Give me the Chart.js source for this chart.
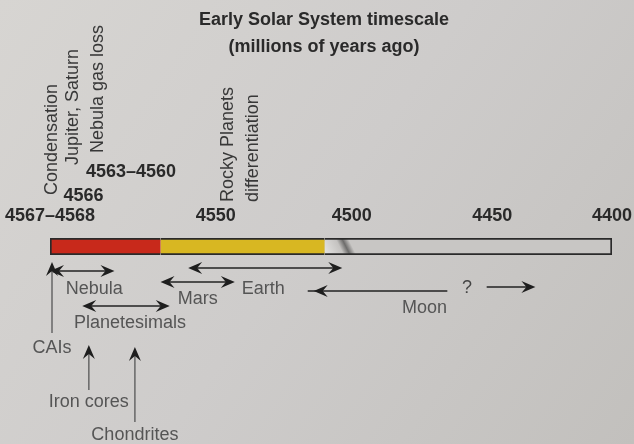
<!DOCTYPE html>
<html>
<head>
<meta charset="utf-8">
<script src="https://cdn.jsdelivr.net/npm/chart.js@4.4.0/dist/chart.umd.min.js"></script>
<style>
  html, body { margin: 0; padding: 0; background: #cfcdca; }
  #wrap { width: 634px; height: 444px; }
</style>
</head>
<body>
<div id="wrap"><canvas id="timeChart"></canvas></div>
<script>
// ages in millions of years ago
const tickAges = [4568, 4550, 4500, 4450, 4400];
const tickLabels = ['4567–4568', '4550', '4500', '4450', '4400'];
// the drawing is not to scale: where each tick sits along the bar (0..1)
const tickSpacing = [0, 0.295, 0.537, 0.787, 1];

// coloured phases of the bar
const phaseStart = [4568, 4556, 4510];
const phaseEnd = [4556, 4510, 4400];
const phaseColors = ['#c8291b', '#d8b722', '#c8c6c4'];

// double arrows under the bar
const spanNames = ['Nebula', 'Planetesimals', 'Mars', 'Earth'];
const spanFrom = [4568, 4564.5, 4556, 4553];
const spanTo = [4561, 4555, 4543, 4503.5];

// Moon: arrow back to ~4514, then "?" and arrow onwards
const moonFrom = 4466, moonTo = 4514;
const unknownFrom = 4452, unknownTo = 4432;

// upward arrows to the bar
const markerNames = ['CAIs', 'Iron cores', 'Chondrites'];
const markerAges = [4568, 4564, 4559];

// vertical event labels above the bar
const eventNames = ['Condensation', 'Jupiter, Saturn', 'Nebula gas loss'];
const eventAges = [4568, 4566, 4563];
const eventDates = ['', '4566', '4563–4560'];
const rockyAge = 4550;

const FONT = '"Liberation Sans", Arial, Helvetica, sans-serif';

function ageToFrac(age) {
  for (let i = 0; i < tickAges.length - 1; i++) {
    const a = tickAges[i], b = tickAges[i + 1];
    if (age <= a && age >= b || i === tickAges.length - 2) {
      return tickSpacing[i] + (a - age) / (a - b) * (tickSpacing[i + 1] - tickSpacing[i]);
    }
  }
  return 0;
}
function fracToAge(f) {
  for (let i = 0; i < tickSpacing.length - 1; i++) {
    if (f <= tickSpacing[i + 1] || i === tickSpacing.length - 2) {
      const t = (f - tickSpacing[i]) / (tickSpacing[i + 1] - tickSpacing[i]);
      return tickAges[i] - t * (tickAges[i] - tickAges[i + 1]);
    }
  }
  return tickAges[0];
}

// linear scale, but stretched the way the original figure is
class StretchScale extends Chart.LinearScale {
  getPixelForValue(value) {
    if (value === null || isNaN(value)) return NaN;
    return this.getPixelForDecimal(ageToFrac(value));
  }
  getValueForPixel(pixel) {
    return fracToAge(this.getDecimalForPixel(pixel));
  }
}
StretchScale.id = 'stretch';
Chart.register(StretchScale);

function arrowHead(ctx, x, y, angle) {
  ctx.save();
  ctx.translate(x, y);
  ctx.rotate(angle);
  ctx.beginPath();
  ctx.moveTo(0, 0);
  ctx.lineTo(-14, -6);
  ctx.lineTo(-9, 0);
  ctx.lineTo(-14, 6);
  ctx.closePath();
  ctx.fill();
  ctx.restore();
}
function hArrow(ctx, x1, x2, y, both) {
  ctx.beginPath();
  ctx.moveTo(x1 + (both ? 6 : 0), y);
  ctx.lineTo(x2 - 6, y);
  ctx.stroke();
  arrowHead(ctx, x2, y, x2 > x1 ? 0 : Math.PI);
  if (both) arrowHead(ctx, x1, y, x2 > x1 ? Math.PI : 0);
}

const paper = {
  id: 'paper',
  beforeDraw(chart) {
    const ctx = chart.ctx;
    const g = ctx.createLinearGradient(0, 0, chart.width, chart.height);
    g.addColorStop(0, '#d7d5d2');
    g.addColorStop(0.5, '#cecccb');
    g.addColorStop(1, '#c2c0bd');
    ctx.save();
    ctx.fillStyle = g;
    ctx.fillRect(0, 0, chart.width, chart.height);
    ctx.restore();
  }
};

const notes = {
  id: 'notes',
  afterDatasetsDraw(chart) {
    const ctx = chart.ctx;
    const x = chart.scales.x;
    const px = v => x.getPixelForValue(v);
    const bottom = chart.chartArea.bottom;
    ctx.save();
    ctx.strokeStyle = '#222';
    ctx.fillStyle = '#1e1e1e';
    ctx.lineWidth = 1.5;

    // double arrows and their labels
    const spanRow = [16, 51, 27, 13];
    const spanLabel = [[12, 34], [4, 68], [0, 44], [-2, 34]];
    spanNames.forEach((name, i) => {
      ctx.fillStyle = '#1e1e1e';
      hArrow(ctx, px(spanFrom[i]), px(spanTo[i]), bottom + spanRow[i], true);
      ctx.fillStyle = '#555';
      ctx.font = '18px ' + FONT;
      ctx.textAlign = 'center';
      ctx.textBaseline = 'middle';
      const mid = (px(spanFrom[i]) + px(spanTo[i])) / 2;
      ctx.fillText(name, mid + spanLabel[i][0], bottom + spanLabel[i][1]);
    });

    // Moon
    ctx.fillStyle = '#1e1e1e';
    hArrow(ctx, px(moonFrom), px(moonTo), bottom + 36, false);
    hArrow(ctx, px(unknownFrom), px(unknownTo), bottom + 32, false);
    ctx.fillStyle = '#444';
    ctx.fillText('?', (px(moonFrom) + px(unknownFrom)) / 2, bottom + 33);
    ctx.fillStyle = '#555';
    ctx.fillText('Moon', (px(moonFrom) + px(moonTo)) / 2 + 44, bottom + 53);

    // upward arrows
    const markerFoot = [78, 135, 167];
    const markerTip = [7, 90, 92];
    const markerLabel = [93, 147, 180];
    markerNames.forEach((name, i) => {
      const mx = px(markerAges[i]) + 2;
      ctx.strokeStyle = '#666';
      ctx.beginPath();
      ctx.moveTo(mx, bottom + markerFoot[i]);
      ctx.lineTo(mx, bottom + markerTip[i] + 8);
      ctx.stroke();
      ctx.fillStyle = '#1e1e1e';
      arrowHead(ctx, mx, bottom + markerTip[i], -Math.PI / 2);
      ctx.fillStyle = '#555';
      ctx.fillText(name, mx, bottom + markerLabel[i]);
    });

    // vertical event names above the bar
    const eventShift = [2, 5, 2];
    const eventBase = [195, 165, 153];
    ctx.fillStyle = '#383838';
    ctx.textAlign = 'left';
    eventNames.forEach((name, i) => {
      ctx.save();
      ctx.translate(px(eventAges[i]) + eventShift[i], eventBase[i]);
      ctx.rotate(-Math.PI / 2);
      ctx.fillText(name, 0, 0);
      ctx.restore();
    });
    [['Rocky Planets', 12], ['differentiation', 37]].forEach(([t, dx]) => {
      ctx.save();
      ctx.translate(px(rockyAge) + dx, 202);
      ctx.rotate(-Math.PI / 2);
      ctx.fillText(t, 0, 0);
      ctx.restore();
    });

    // bold dates of the events
    const dateShift = [0, 15, 35];
    const dateY = [0, 196, 172];
    ctx.font = 'bold 18px ' + FONT;
    ctx.fillStyle = '#2a2a2a';
    ctx.textAlign = 'center';
    eventDates.forEach((d, i) => {
      if (d) ctx.fillText(d, px(eventAges[i]) + dateShift[i], dateY[i]);
    });
    ctx.restore();
  }
};

function greyFill(context) {
  const chart = context.chart;
  const area = chart.chartArea;
  if (!area) return phaseColors[2];
  const x0 = chart.scales.x.getPixelForValue(phaseStart[2]);
  const g = chart.ctx.createLinearGradient(x0, area.bottom, x0 + 34, area.top);
  g.addColorStop(0, '#e6e5e3');
  g.addColorStop(0.45, '#c4c2c0');
  g.addColorStop(0.6, '#6d6c6b');
  g.addColorStop(0.75, '#c8c6c4');
  g.addColorStop(1, phaseColors[2]);
  return g;
}

const ctx = document.getElementById('timeChart').getContext('2d');
new Chart(ctx, {
  type: 'bar',
  data: {
    labels: [''],
    datasets: phaseStart.map((s, i) => ({
      data: [[s, phaseEnd[i]]],
      backgroundColor: i === 2 ? greyFill : phaseColors[i],
      borderColor: '#2a2a2a',
      borderWidth: {
        top: 2, bottom: 2,
        left: i === 0 ? 2 : 0,
        right: i === 2 ? 2 : 0
      },
      borderSkipped: false,
      grouped: false,
      barPercentage: 1,
      categoryPercentage: 1
    }))
  },
  options: {
    indexAxis: 'y',
    responsive: true,
    maintainAspectRatio: false,
    animation: false,
    layout: { padding: { left: 36, right: 22, top: 0, bottom: 189 } },
    plugins: {
      legend: { display: false },
      tooltip: { enabled: false },
      title: {
        display: true,
        text: ['Early Solar System timescale', '(millions of years ago)'],
        color: '#2a2a2a',
        font: { family: FONT, size: 18, weight: 'bold', lineHeight: 1.5 },
        padding: { top: 7, bottom: 0 }
      }
    },
    scales: {
      x: {
        type: 'stretch',
        position: 'top',
        min: 4400,
        max: 4568,
        grid: { display: false, drawTicks: false },
        border: { display: false },
        afterBuildTicks: axis => { axis.ticks = tickAges.map(v => ({ value: v })); },
        afterFit: axis => {
          axis.height = 177;
          axis.paddingLeft = 0;
          axis.paddingRight = 0;
        },
        ticks: {
          autoSkip: false,
          maxRotation: 0,
          minRotation: 0,
          padding: 11,
          color: '#2a2a2a',
          font: { family: FONT, size: 18, weight: 'bold' },
          callback: (v, i) => tickLabels[i]
        }
      },
      y: {
        grid: { display: false },
        border: { display: false },
        ticks: { display: false },
        afterFit: axis => { axis.width = 14; }
      }
    }
  },
  plugins: [paper, notes]
});
</script>
</body>
</html>
